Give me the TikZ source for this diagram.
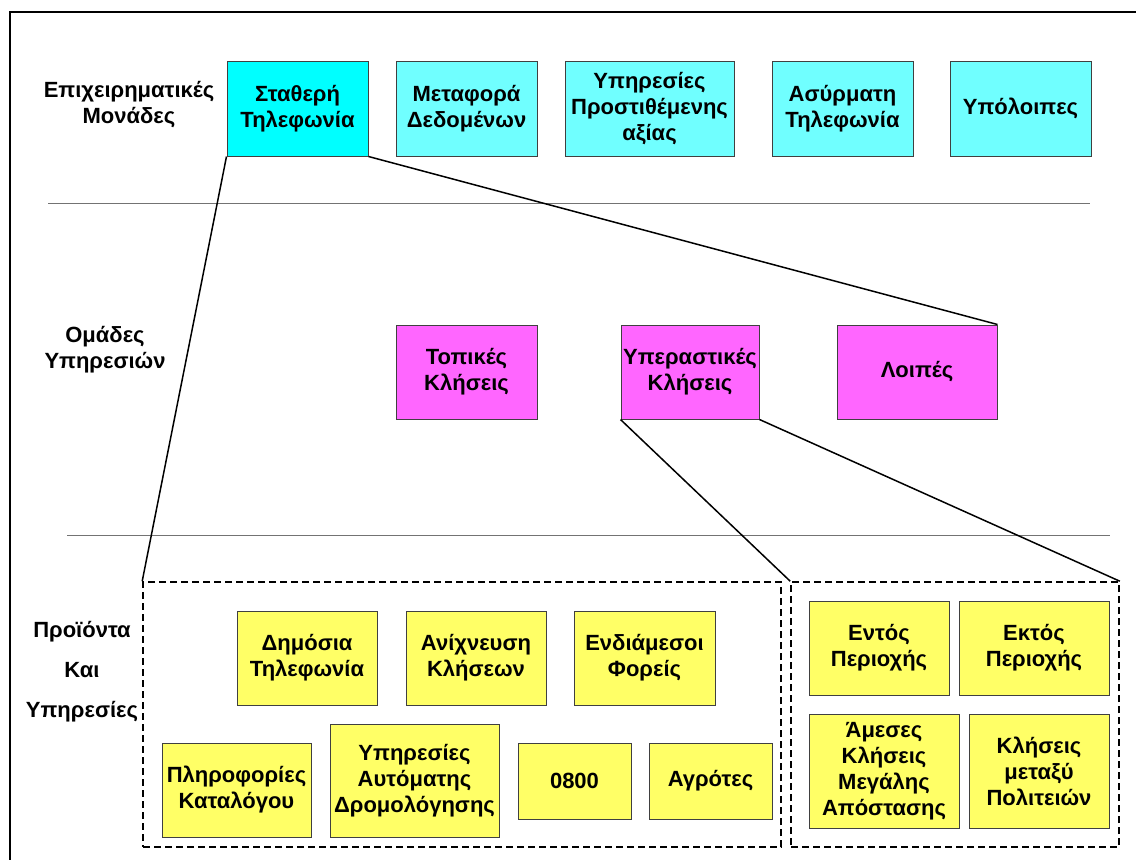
\documentclass[tikz,border=0pt]{standalone}
\usepackage{fontspec}
\setmainfont{Liberation Sans}
\definecolor{unitbright}{RGB}{0,255,255}
\definecolor{unitfill}{RGB}{112,255,255}
\definecolor{groupfill}{RGB}{255,102,255}
\definecolor{prodfill}{RGB}{255,255,102}
\begin{document}
\begin{tikzpicture}[x=1pt,y=-1pt,
  txt/.style={font=\fontsize{22}{26}\selectfont\bfseries, align=center, inner sep=0pt},
  box/.style={txt, draw=black!75, line width=1pt, anchor=center},
  unitbox/.style={box, fill=unitfill, minimum width=141pt, minimum height=95pt},
  groupbox/.style={box, fill=groupfill, minimum height=94pt},
  prodbox/.style={box, fill=prodfill},
  sepline/.style={draw=black!55, line width=1pt},
  link/.style={draw=black, line width=1.5pt},
  zone/.style={draw=black, line width=1.6pt, dash pattern=on 7pt off 4pt, inner sep=0pt, anchor=center}]
\useasboundingbox (0,0) rectangle (1136,860);
\fill[white] (0,0) rectangle (1136,860);

% outer frame
\draw[line width=2pt] (10,860) -- (10,12) -- (1136,12);

% separators between the three levels
\draw[sepline] (48,203) -- (1090,203);
\draw[sepline] (67,535) -- (1110,535);

% level labels
\node[txt] (lvlA) at (129,105) {Επιχειρηματικές\\Μονάδες};
\node[txt] (lvlB) at (105,350) {Ομάδες\\Υπηρεσιών};
\node[txt, font=\fontsize{22}{40}\selectfont\bfseries] (lvlC) at (82,672) {Προϊόντα\\Και\\Υπηρεσίες};

% business units
\node[unitbox, fill=unitbright] (st) at (297.5,108.5) {Σταθερή\\Τηλεφωνία};
\node[unitbox] (md) at (466.5,108.5) {Μεταφορά\\Δεδομένων};
\node[unitbox, minimum width=169pt] (yp) at (649.5,108.5) {Υπηρεσίες\\Προστιθέμενης\\αξίας};
\node[unitbox] (as) at (842.5,108.5) {Ασύρματη\\Τηλεφωνία};
\node[unitbox] (yl) at (1020.5,108.5) {Υπόλοιπες};

% service groups
\node[groupbox, minimum width=141pt] (tk) at (466.5,372) {Τοπικές\\Κλήσεις};
\node[groupbox, minimum width=138pt] (ue) at (690,372) {Υπεραστικές\\Κλήσεις};
\node[groupbox, minimum width=160pt] (lo) at (917,372) {Λοιπές};

% product zones
\node[zone, minimum width=638pt, minimum height=265pt] (lz) at (462,714.5) {};
\node[zone, minimum width=328pt, minimum height=265pt] (rz) at (955,714.5) {};

% products of fixed telephony
\node[prodbox, minimum width=140pt, minimum height=94pt] (dt) at (307,658) {Δημόσια\\Τηλεφωνία};
\node[prodbox, minimum width=140pt, minimum height=94pt] (an) at (476,658) {Ανίχνευση\\Κλήσεων};
\node[prodbox, minimum width=141pt, minimum height=94pt] (en) at (644.5,658) {Ενδιάμεσοι\\Φορείς};
\node[prodbox, minimum width=149pt, minimum height=94pt] (pl) at (236.5,790) {Πληροφορίες\\Καταλόγου};
\node[prodbox, minimum width=169pt, minimum height=113pt] (ya) at (414.5,780.5) {Υπηρεσίες\\Αυτόματης\\Δρομολόγησης};
\node[prodbox, minimum width=113pt, minimum height=76pt] (o8) at (574.5,781) {0800};
\node[prodbox, minimum width=123pt, minimum height=76pt] (ag) at (710.5,781) {Αγρότες};

% products of long-distance calls
\node[prodbox, minimum width=140pt, minimum height=94pt] (ent) at (879,648) {Εντός\\Περιοχής};
\node[prodbox, minimum width=150pt, minimum height=94pt] (ekt) at (1034,648) {Εκτός\\Περιοχής};
\node[prodbox, minimum width=150pt, minimum height=114pt] (am) at (884,771) {Άμεσες\\Κλήσεις\\Μεγάλης\\Απόστασης};
\node[prodbox, minimum width=140pt, minimum height=114pt] (kl) at (1039,771) {Κλήσεις\\μεταξύ\\Πολιτειών};

% drill-down connectors
\draw[link] (st.south west) -- (lz.north west);
\draw[link] (st.south east) -- (lo.north east);
\draw[link] (ue.south west) -- (rz.north west);
\draw[link] (ue.south east) -- (rz.north east);
\end{tikzpicture}
\end{document}
